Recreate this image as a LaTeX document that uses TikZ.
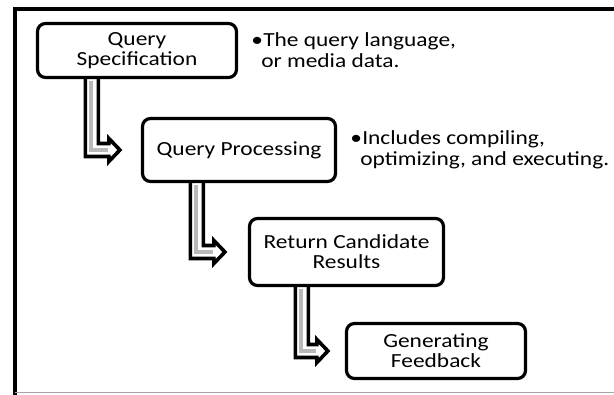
\documentclass[tikz,border=0pt]{standalone}
\usepackage{fontspec}
\setmainfont{Carlito}[FakeStretch=1.17]
\usetikzlibrary{positioning, calc}

\begin{document}
\begin{tikzpicture}[
  x=1pt, y=1pt,
  stepbox/.style={draw, line width=3.2pt, rounded corners=8pt, align=center, inner sep=2pt, font=\fontsize{20}{20}\selectfont},
  note/.style={align=left, inner sep=0pt, font=\fontsize{20}{21}\selectfont},
  bent/.style={draw, line width=3.6pt, line join=miter},
  core/.style={draw=gray!55, line width=4pt}
]
\useasboundingbox (0,0) rectangle (614,-395);

% Frame
\draw [line width=4pt] (614,-9) -- (15,-9) -- (15,-395);
\draw [gray!70, line width=1.2pt] (15,-392.5) -- (614,-392.5);

% Steps
\node (spec) [stepbox, minimum width=199pt, minimum height=54pt] at (137,-50.5) {Query\\Specification};
\node (proc) [stepbox, minimum width=193pt, minimum height=63pt] at (239,-150) {Query Processing};
\node (cand) [stepbox, minimum width=194pt, minimum height=67pt] at (346.5,-252) {Return Candidate\\Results};
\node (feed) [stepbox, minimum width=179pt, minimum height=55pt] at (436,-351) {Generating\\Feedback};

% Notes
\node (specnote) [note, right=13pt of spec] {\makebox[12pt][l]{\textbullet}The query language,\\\hspace*{10pt}or media data.};
\node (procnote) [note, right=13pt of proc] {\makebox[12pt][l]{\textbullet}Includes compiling,\\\hspace*{10pt}optimizing, and executing.};

% Bent arrows
\coordinate (s1) at ($(spec.south west)+(56,0)$);
\coordinate (t1) at ($(proc.west)+(-21,0)$);
\draw [bent] ($(s1)+(-6.5,0)$) |- ($(t1)+(-11,-6.5)$) -- ++(0,-5) -- (t1) -- ($(t1)+(-11,11.5)$) -- ++(0,-5) -| ($(s1)+(6.5,0)$);
\draw [core] ($(s1)+(-0.5,-2)$) |- ($(t1)+(-12,-0.5)$);

\coordinate (s2) at ($(proc.south west)+(56,0)$);
\coordinate (t2) at ($(cand.west)+(-23,0)$);
\draw [bent] ($(s2)+(-6.5,0)$) |- ($(t2)+(-11,-6.5)$) -- ++(0,-5) -- (t2) -- ($(t2)+(-11,11.5)$) -- ++(0,-5) -| ($(s2)+(6.5,0)$);
\draw [core] ($(s2)+(-0.5,-2)$) |- ($(t2)+(-12,-0.5)$);

\coordinate (s3) at ($(cand.south west)+(54,0)$);
\coordinate (t3) at ($(feed.west)+(-17,0)$);
\draw [bent] ($(s3)+(-6.5,0)$) |- ($(t3)+(-11,-6.5)$) -- ++(0,-5) -- (t3) -- ($(t3)+(-11,11.5)$) -- ++(0,-5) -| ($(s3)+(6.5,0)$);
\draw [core] ($(s3)+(-0.5,-2)$) |- ($(t3)+(-12,-0.5)$);

\end{tikzpicture}
\end{document}
